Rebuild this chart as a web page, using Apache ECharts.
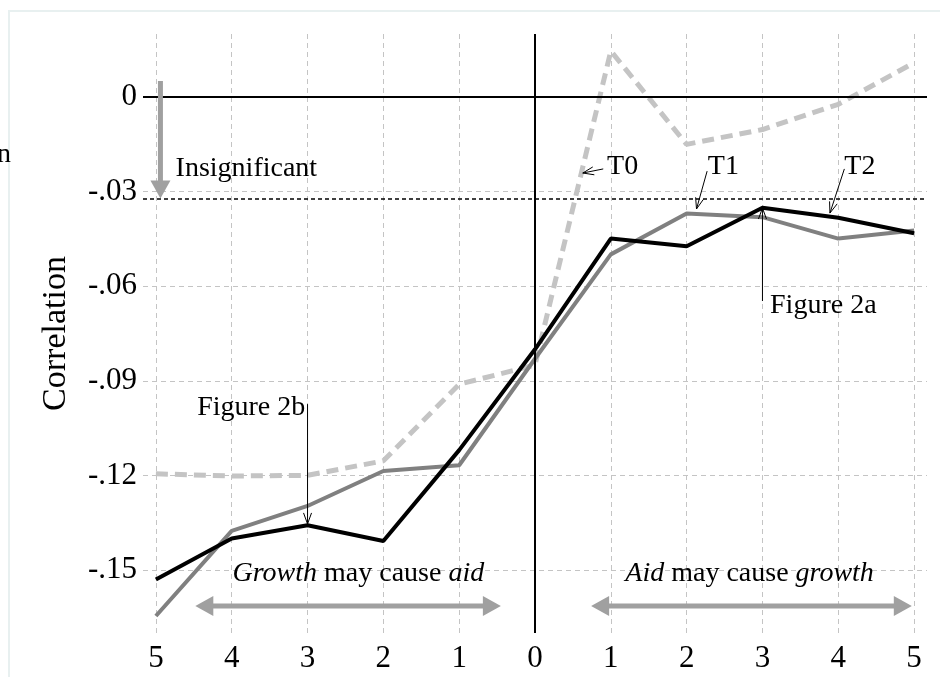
<!DOCTYPE html>
<html>
<head>
<meta charset="utf-8">
<script src="https://cdn.jsdelivr.net/npm/echarts@6/dist/echarts.min.js"></script>
<style>
html,body{margin:0;padding:0;background:#fff;}
#chart{width:940px;height:677px;}
</style>
</head>
<body>
<div id="chart"></div>
<script>
// ---- data ----
var lags = [-5, -4, -3, -2, -1, 0, 1, 2, 3, 4, 5];
var xTickLabels = ['5', '4', '3', '2', '1', '0', '1', '2', '3', '4', '5'];
var yTicks = [0, -0.03, -0.06, -0.09, -0.12, -0.15];
var yTickLabels = ['0', '-.03', '-.06', '-.09', '-.12', '-.15'];
var figure2 = [-0.153, -0.140, -0.1358, -0.1408, -0.112, -0.080, -0.0449, -0.0473, -0.0351, -0.0383, -0.0432];   // black
var figureT1 = [-0.1646, -0.1376, -0.1297, -0.1186, -0.1168, -0.083, -0.0499, -0.0369, -0.0381, -0.0449, -0.0423]; // grey
var figureT0 = [-0.1195, -0.1202, -0.1200, -0.1154, -0.0911, -0.085, 0.0146, -0.0150, -0.0103, -0.0023, 0.0109];  // dashed
var significance = -0.0322;

var FONT = '"Liberation Serif", "Times New Roman", serif';

function pairs(vals) { return lags.map(function (x, i) { return [x, vals[i]]; }); }

var chart = echarts.init(document.getElementById('chart'), null, { renderer: 'canvas' });

var option = {
  backgroundColor: '#ffffff',
  animation: false,
  grid: { left: 143, right: 13, top: 34, bottom: 44, containLabel: false },
  xAxis: {
    type: 'value', min: -5.17, max: 5.17,
    axisLine: { show: false },
    axisTick: { show: false, customValues: lags },
    axisLabel: {
      customValues: lags, margin: 10,
      fontFamily: FONT, fontSize: 31, color: '#000',
      formatter: function (v) { var i = lags.indexOf(Math.round(v)); return i >= 0 ? xTickLabels[i] : ''; }
    },
    splitLine: { show: true, lineStyle: { color: '#c4c4c4', type: [5, 4], width: 1 } }
  },
  yAxis: {
    type: 'value', min: -0.17, max: 0.02,
    name: 'Correlation', nameLocation: 'middle', nameGap: 70,
    nameTextStyle: { fontFamily: FONT, fontSize: 34, color: '#000' },
    axisLine: { show: false },
    axisTick: { show: false, customValues: yTicks },
    axisLabel: {
      customValues: yTicks, margin: 6,
      fontFamily: FONT, fontSize: 31, color: '#000',
      formatter: function (v) {
        for (var i = 0; i < yTicks.length; i++) { if (Math.abs(yTicks[i] - v) < 1e-6) return yTickLabels[i]; }
        return '';
      }
    },
    splitLine: { show: true, lineStyle: { color: '#c4c4c4', type: [5, 4], width: 1 } }
  },
  series: [
    {
      name: 'ref', type: 'line', data: [], silent: true,
      markLine: {
        symbol: 'none', silent: true, precision: 5, label: { show: false },
        data: [
          { yAxis: 0, lineStyle: { color: '#000', width: 2, type: 'solid' } },
          { xAxis: 0, lineStyle: { color: '#000', width: 2, type: 'solid' } },
          { yAxis: significance, lineStyle: { color: '#000', width: 1.5, type: [4, 3] } }
        ]
      }
    },
    {
      name: 'T0', type: 'line', data: pairs(figureT0), symbol: 'none',
      lineStyle: { color: '#c4c4c4', width: 5, type: [12, 7] }, z: 3
    },
    {
      name: 'T1', type: 'line', data: pairs(figureT1), symbol: 'none',
      lineStyle: { color: '#808080', width: 4 }, z: 4
    },
    {
      name: 'Figure 2', type: 'line', data: pairs(figure2), symbol: 'none',
      lineStyle: { color: '#000000', width: 4 }, z: 5
    }
  ]
};
chart.setOption(option);

// ---- annotations (positioned in data coordinates) ----
function P(x, y) { return chart.convertToPixel({ gridIndex: 0 }, [x, y]); }

function thickArrow(from, to, doubleHead) {
  var a = P(from[0], from[1]), b = P(to[0], to[1]);
  var dx = b[0] - a[0], dy = b[1] - a[1], L = Math.sqrt(dx * dx + dy * dy);
  var ux = dx / L, uy = dy / L, nx = -uy, ny = ux;
  var hl = 18, hw = 10, col = '#a0a0a0';
  var els = [];
  var s = doubleHead ? [a[0] + ux * hl * 0.8, a[1] + uy * hl * 0.8] : a;
  var e = [b[0] - ux * hl * 0.8, b[1] - uy * hl * 0.8];
  els.push({ type: 'line', shape: { x1: s[0], y1: s[1], x2: e[0], y2: e[1] }, style: { stroke: col, lineWidth: 5 }, z: 20 });
  function head(tip, dirx, diry) {
    var bx = tip[0] - dirx * hl, by = tip[1] - diry * hl;
    return { type: 'polygon', shape: { points: [[tip[0], tip[1]], [bx + nx * hw, by + ny * hw], [bx - nx * hw, by - ny * hw]] }, style: { fill: col }, z: 20 };
  }
  els.push(head(b, ux, uy));
  if (doubleHead) els.push(head(a, -ux, -uy));
  return els;
}

function thinArrow(from, to) {
  var a = P(from[0], from[1]), b = P(to[0], to[1]);
  var dx = b[0] - a[0], dy = b[1] - a[1], L = Math.sqrt(dx * dx + dy * dy);
  var ux = dx / L, uy = dy / L, nx = -uy, ny = ux;
  var hl = 11, hw = 4;
  return [
    { type: 'line', shape: { x1: a[0], y1: a[1], x2: b[0], y2: b[1] }, style: { stroke: '#000', lineWidth: 1 }, z: 20 },
    { type: 'polyline', shape: { points: [[b[0] - ux * hl + nx * hw, b[1] - uy * hl + ny * hw], [b[0], b[1]], [b[0] - ux * hl - nx * hw, b[1] - uy * hl - ny * hw]] }, style: { stroke: '#000', lineWidth: 1, fill: null }, z: 20 }
  ];
}

function label(text, x, y, align, size, rich) {
  var p = P(x, y);
  var st = { text: text, font: size + 'px ' + FONT, fill: '#000', align: align, verticalAlign: 'middle' };
  if (rich) st.rich = rich;
  return { type: 'text', x: p[0], y: p[1], style: st, z: 21 };
}

var italic = { i: { fontStyle: 'italic', fontFamily: FONT, fontSize: 28, fill: '#000' } };

var g = [];
g = g.concat(thickArrow([-4.94, 0.0051], [-4.94, -0.0322], false));
g.push(label('Insignificant', -4.74, -0.0228, 'left', 28));
g.push(label('T0', 0.95, -0.022, 'left', 28));
g = g.concat(thinArrow([0.90, -0.0228], [0.63, -0.0241]));
g.push(label('T1', 2.28, -0.022, 'left', 28));
g = g.concat(thinArrow([2.27, -0.0235], [2.13, -0.0355]));
g.push(label('T2', 4.08, -0.022, 'left', 28));
g = g.concat(thinArrow([4.08, -0.0228], [3.89, -0.0368]));
g.push(label('Figure 2a', 3.10, -0.0663, 'left', 28));
g = g.concat(thinArrow([3.0, -0.0647], [3.0, -0.0352]));
g.push(label('Figure 2b', -3.03, -0.0985, 'right', 28));
g = g.concat(thinArrow([-3.0, -0.0974], [-3.0, -0.1354]));
g.push(label('{i|Growth} may cause {i|aid}', -2.33, -0.1513, 'center', 28, italic));
g = g.concat(thickArrow([-4.48, -0.1614], [-0.45, -0.1614], true));
g.push(label('{i|Aid} may cause {i|growth}', 2.83, -0.1513, 'center', 28, italic));
g = g.concat(thickArrow([0.74, -0.1614], [4.97, -0.1614], true));

// faint page frame and cropped letter at left edge
g.push({ type: 'line', shape: { x1: 8, y1: 11, x2: 940, y2: 11 }, style: { stroke: '#e8f0f0', lineWidth: 2 }, z: 0 });
g.push({ type: 'line', shape: { x1: 9, y1: 11, x2: 9, y2: 677 }, style: { stroke: '#e8f0f0', lineWidth: 2 }, z: 0 });
g.push({ type: 'text', x: -3, y: 155, style: { text: 'n', font: '28px ' + FONT, fill: '#000', verticalAlign: 'middle' }, z: 21 });

chart.setOption({ graphic: g });
</script>
</body>
</html>
